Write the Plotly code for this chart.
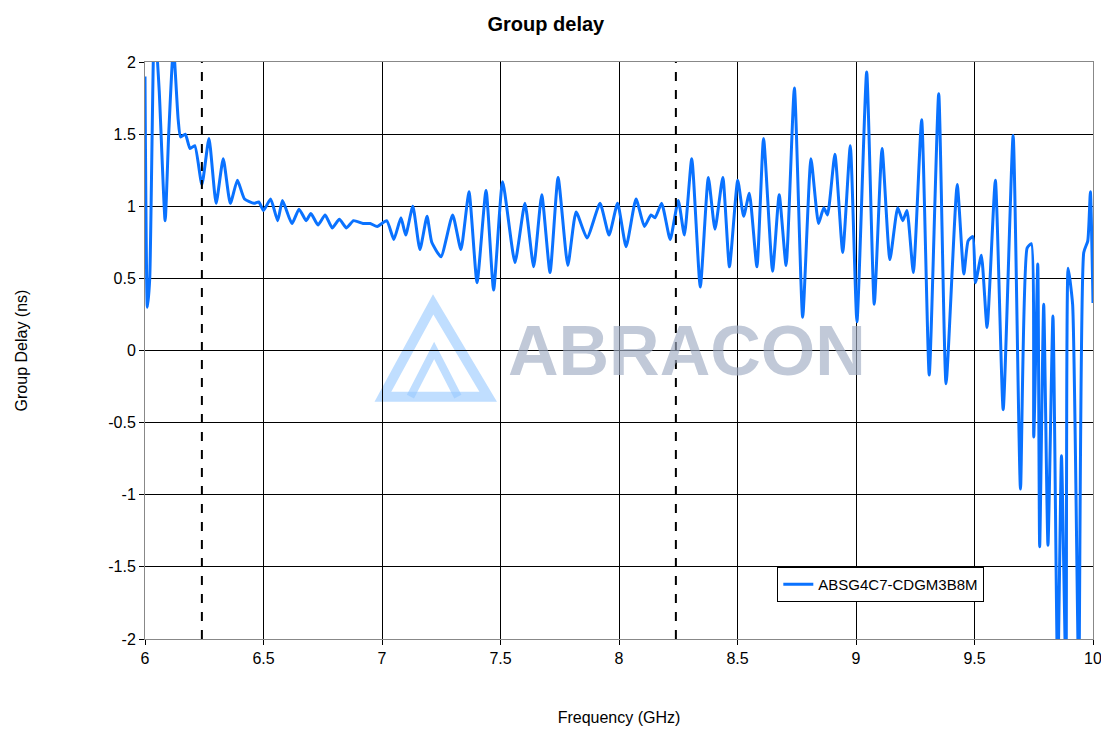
import plotly.graph_objects as go

freq = [6.000,6.010,6.020,6.040,6.060,6.085,6.100,6.120,6.140,6.150,6.170,6.190,6.210,6.240,6.270,6.300,6.330,6.360,6.390,6.420,6.460,6.480,6.500,6.530,6.560,6.580,6.620,6.650,6.680,6.700,6.730,6.760,6.790,6.820,6.850,6.880,6.920,6.950,6.980,7.020,7.050,7.080,7.100,7.130,7.160,7.190,7.210,7.249,
7.298,7.333,7.367,7.401,7.439,7.471,7.509,7.561,7.603,7.640,7.674,7.709,7.743,7.784,7.819,7.865,7.920,7.958,7.994,8.030,8.072,8.107,8.135,8.152,8.180,8.216,8.250,8.276,8.307,8.343,8.377,8.405,8.438,8.466,8.501,8.526,8.550,8.582,8.610,
8.648,8.676,8.705,8.740,8.775,8.810,8.842,8.864,8.880,8.911,8.944,8.976,9.004,9.045,9.077,9.110,9.143,9.176,9.197,9.215,9.242,9.277,9.309,9.349,9.380,9.427,9.455,9.473,9.493,9.504,9.529,9.553,9.588,9.621,9.663,9.694,9.722,9.740,9.750,9.767,9.775,9.792,9.810,9.831,9.851,9.867,9.886,9.895,9.914,9.940,9.961,9.978,9.989,10.000]
delay = [1.90,0.30,0.50,2.30,1.80,0.90,1.50,2.10,1.60,1.48,1.50,1.40,1.42,1.15,1.47,1.02,1.33,1.02,1.18,1.05,1.02,1.03,0.97,1.05,0.90,1.04,0.88,0.98,0.90,0.95,0.87,0.94,0.85,0.91,0.85,0.90,0.88,0.88,0.86,0.90,0.77,0.92,0.80,1.00,0.70,0.93,0.75,0.65,
0.94,0.70,1.10,0.47,1.11,0.42,1.17,0.61,1.02,0.58,1.08,0.54,1.20,0.59,0.96,0.78,1.02,0.80,1.02,0.72,1.05,0.86,0.94,0.92,1.02,0.77,1.04,0.80,1.33,0.44,1.20,0.84,1.20,0.58,1.18,0.93,1.09,0.58,1.47,
0.55,1.08,0.59,1.82,0.23,1.33,0.88,0.99,0.94,1.36,0.68,1.42,0.20,1.93,0.32,1.40,0.63,0.99,0.90,0.97,0.54,1.60,-0.17,1.78,-0.23,1.15,0.53,0.76,0.79,0.47,0.66,0.16,1.18,-0.41,1.49,-0.96,0.71,0.74,-0.60,0.60,-1.36,0.32,-1.35,0.24,-2.30,-0.73,-2.30,0.57,0.32,-2.30,0.68,0.76,1.10,0.33]

series_name = "ABSG4C7-CDGM3B8M"
markers = [6.24, 8.24]
x_ticks = [6, 6.5, 7, 7.5, 8, 8.5, 9, 9.5, 10]
y_ticks = [-2, -1.5, -1, -0.5, 0, 0.5, 1, 1.5, 2]

fig = go.Figure()
fig.add_trace(go.Scatter(x=freq, y=delay, mode="lines", name=series_name,
                         line=dict(color="#0a72ff", width=3, shape="spline", smoothing=0.5)))
for m in markers:
    fig.add_shape(type="line", x0=m, x1=m, y0=-2, y1=2, xref="x", yref="y",
                  line=dict(color="black", width=2, dash="dash"))

# watermark
fig.add_shape(type="path", xref="paper", yref="paper", layer="below",
              path="M 0.251 0.42 L 0.304 0.58 L 0.362 0.42 Z",
              line=dict(color="rgba(150,200,255,0.6)", width=10), fillcolor="rgba(0,0,0,0)")
fig.add_shape(type="path", xref="paper", yref="paper", layer="below",
              path="M 0.280 0.42 L 0.305 0.50 L 0.330 0.42",
              line=dict(color="rgba(150,200,255,0.6)", width=8), fillcolor="rgba(0,0,0,0)")
fig.add_annotation(text="<b>ABRACON</b>", x=0.572, y=0.5, xref="paper", yref="paper",
                   showarrow=False, font=dict(family="Arial", size=70, color="rgba(160,172,195,0.65)"))

axis_common = dict(showgrid=True, gridcolor="black", gridwidth=1, showline=True, linecolor="#888",
                   mirror=True, zeroline=False, ticks="outside", tickcolor="black",
                   tickfont=dict(family="Arial", size=16, color="black"))
fig.update_layout(
    width=1109, height=732, plot_bgcolor="white", paper_bgcolor="white",
    margin=dict(l=137, r=24, t=54, b=101),
    title=dict(text="<b>Group delay</b>", x=0.485, xanchor="center", y=0.988, yanchor="top",
               font=dict(family="Arial", size=20, color="black")),
    xaxis=dict(range=[6, 10], tickvals=x_ticks, ticktext=[str(v) for v in x_ticks],
               title=dict(text="Frequency (GHz)", standoff=45, font=dict(family="Arial", size=16, color="black")), **axis_common),
    yaxis=dict(range=[-2, 2], tickvals=y_ticks, ticktext=[str(v) for v in y_ticks],
               title=dict(text="Group Delay (ns)", standoff=76, font=dict(family="Arial", size=16, color="black")), **axis_common),
    showlegend=True,
    legend=dict(x=0.667, y=0.125, xanchor="left", yanchor="top", bgcolor="white",
                bordercolor="black", borderwidth=1, font=dict(family="Arial", size=15, color="black"),
                tracegroupgap=0, itemwidth=30),
)
fig.write_html("out.html")
